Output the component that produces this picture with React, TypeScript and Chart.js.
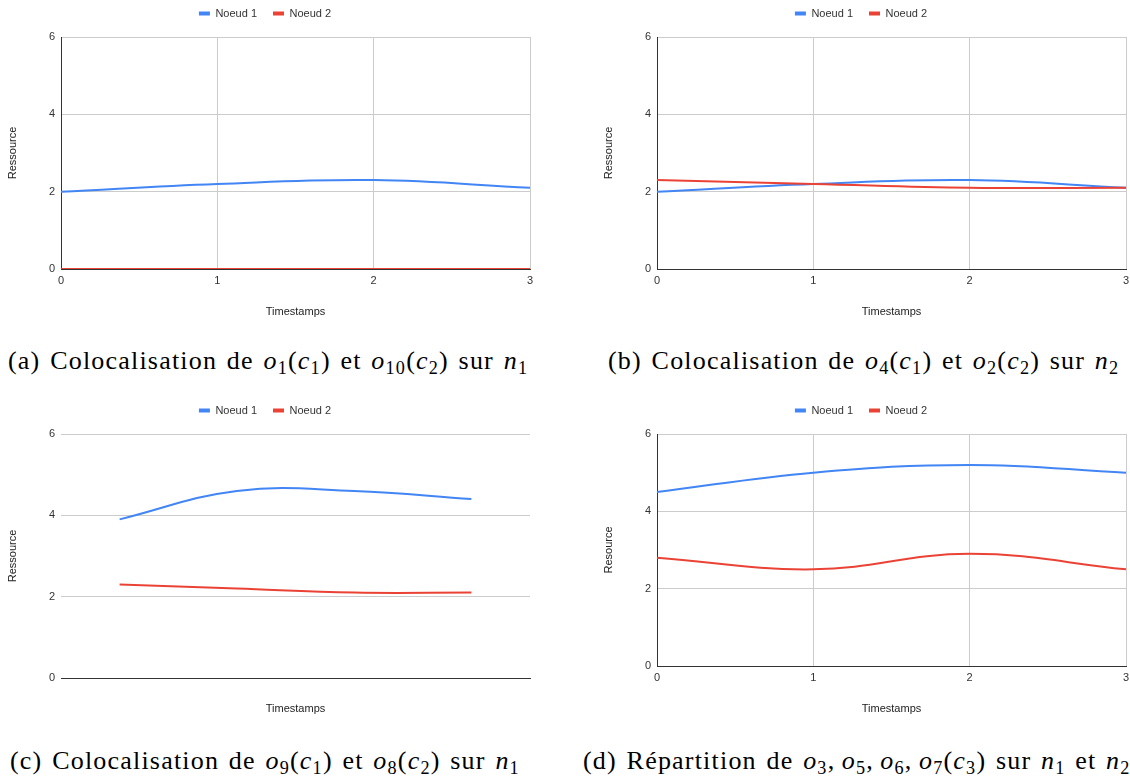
import React, { useEffect, useRef } from 'react';
import { Chart, registerables } from 'chart.js';

Chart.register(...registerables);
Chart.defaults.font.family = "'Liberation Sans', Arial, sans-serif";
Chart.defaults.font.size = 11;

// ---- data ----
const timestamps = ['0', '1', '2', '3'];
const seriesNames = ['Noeud 1', 'Noeud 2'];
const xAxisTitle = 'Timestamps';

const aNoeud1 = [2.0, 2.2, 2.3, 2.1];
const aNoeud2 = [0, 0, 0, 0];

const bNoeud1 = [2.0, 2.2, 2.3, 2.1];
const bNoeud2 = [2.3, 2.2, 2.1, 2.1];

const cNoeud1 = [3.9, 4.6, 4.6, 4.4];
const cNoeud2 = [2.3, 2.2, 2.1, 2.1];

const dNoeud1 = [4.5, 5.0, 5.2, 5.0];
const dNoeud2 = [2.8, 2.5, 2.9, 2.5];

const yMin = 0;
const yMax = 6;
const yStep = 2;

// ---- styles ----
const BLUE = '#4285F4';
const RED = '#EA4335';
const GRID = '#cccccc';
const AXIS = '#333333';
const TEXT = '#333333';
const TRANSPARENT = 'rgba(0,0,0,0)';

const legendSpacer = {
  id: 'legendSpacer',
  beforeLayout(chart: any) {
    const lg = chart.legend;
    if (lg && !lg.__spaced) {
      const orig = lg.fit;
      lg.fit = function () {
        orig.call(this);
        this.height += 8;
      };
      lg.__spaced = true;
    }
  },
};

type Spec = { n1: number[]; n2: number[]; yTitle: string; cat: boolean };

function LineChart({ spec, left, top }: { spec: Spec; left: number; top: number }) {
  const ref = useRef<HTMLCanvasElement>(null);
  useEffect(() => {
    const isCat = spec.cat;
    const chart = new Chart(ref.current as HTMLCanvasElement, {
      type: 'line',
      data: {
        labels: timestamps,
        datasets: [
          { label: seriesNames[0], data: spec.n1, borderColor: BLUE, backgroundColor: BLUE, order: 1 },
          { label: seriesNames[1], data: spec.n2, borderColor: RED, backgroundColor: RED, order: 0 },
        ],
      },
      options: {
        responsive: false,
        animation: false,
        devicePixelRatio: 1,
        layout: { padding: { top: -8, left: 0, right: 30, bottom: 9 } },
        elements: {
          line: { borderWidth: 2, tension: 0.4, fill: false },
          point: { radius: 0, hoverRadius: 0 },
        },
        plugins: {
          legend: {
            position: 'top',
            align: 'center',
            labels: {
              boxWidth: 11,
              boxHeight: 4,
              padding: 16,
              color: TEXT,
              font: { size: 11 },
              sort: (a: any, b: any) => a.datasetIndex - b.datasetIndex,
              generateLabels: (ch: any) =>
                (Chart.defaults.plugins.legend.labels as any)
                  .generateLabels(ch)
                  .map((l: any) => ({ ...l, lineWidth: 0 })),
            },
          },
          tooltip: { enabled: false },
        },
        scales: {
          x: {
            type: 'category',
            offset: isCat,
            grid: {
              display: !isCat,
              drawTicks: false,
              color: (c: any) => (c.index === 0 ? TRANSPARENT : GRID),
            },
            border: { display: true, color: AXIS, width: 1 },
            ticks: { display: !isCat, padding: 5, color: TEXT, font: { size: 11 }, maxRotation: 0, autoSkip: false },
            title: { display: true, text: xAxisTitle, color: '#222', font: { size: 11 }, padding: { top: 0, bottom: 2 } },
            afterFit: (s: any) => {
              s.height = isCat ? 40 : 52;
            },
          },
          y: {
            min: yMin,
            max: yMax,
            ticks: { stepSize: yStep, padding: 6, color: TEXT, font: { size: 11 } },
            grid: {
              drawTicks: false,
              color: (c: any) => (c.tick && c.tick.value === 0 ? TRANSPARENT : GRID),
            },
            border: { display: !isCat, color: AXIS, width: 1 },
            title: { display: true, text: spec.yTitle, color: '#222', font: { size: 11 }, padding: { top: 6, bottom: 0 } },
            afterFit: (s: any) => {
              s.width = 61;
            },
          },
        },
      } as any,
      plugins: [legendSpacer],
    });
    return () => chart.destroy();
  }, []);
  return (
    <canvas
      ref={ref}
      width={560}
      height={330}
      style={{ position: 'absolute', left, top, width: 560, height: 330 }}
    />
  );
}

const Sub = ({ v }: { v: string }) => (
  <span style={{ fontSize: '0.7em', position: 'relative', top: '0.25em', fontStyle: 'normal' }}>{v}</span>
);
const M = ({ b, s }: { b: string; s: string }) => (
  <>
    <i>{b}</i>
    <Sub v={s} />
  </>
);

function Caption({ left, top, children }: { left: number; top: number; children: React.ReactNode }) {
  return (
    <div
      style={{
        position: 'absolute',
        left,
        top,
        whiteSpace: 'nowrap',
        fontFamily: "'Liberation Serif', 'DejaVu Serif', serif",
        fontSize: 26,
        lineHeight: '30px',
        letterSpacing: '1.2px',
        wordSpacing: '2px',
        color: '#000',
      }}
    >
      {children}
    </div>
  );
}

const THIN = '\u2009';

export default function App() {
  return (
    <div
      style={{
        position: 'absolute',
        left: 0,
        top: 0,
        width: 1130,
        height: 780,
        overflow: 'hidden',
        background: '#fff',
      }}
    >
      <LineChart spec={{ n1: aNoeud1, n2: aNoeud2, yTitle: 'Ressource', cat: false }} left={0} top={0} />
      <LineChart spec={{ n1: bNoeud1, n2: bNoeud2, yTitle: 'Ressource', cat: false }} left={596} top={0} />
      <LineChart spec={{ n1: cNoeud1, n2: cNoeud2, yTitle: 'Ressource', cat: true }} left={0} top={397} />
      <LineChart spec={{ n1: dNoeud1, n2: dNoeud2, yTitle: 'Resource', cat: false }} left={596} top={397} />

      <Caption left={8} top={346}>
        (a) Colocalisation de <M b="o" s="1" />(<M b="c" s="1" />) et <M b="o" s="10" />(<M b="c" s="2" />) sur{' '}
        <M b="n" s="1" />
      </Caption>
      <Caption left={608} top={346}>
        (b) Colocalisation de <M b="o" s="4" />(<M b="c" s="1" />) et <M b="o" s="2" />(<M b="c" s="2" />) sur{' '}
        <M b="n" s="2" />
      </Caption>
      <Caption left={10} top={746}>
        (c) Colocalisation de <M b="o" s="9" />(<M b="c" s="1" />) et <M b="o" s="8" />(<M b="c" s="2" />) sur{' '}
        <M b="n" s="1" />
      </Caption>
      <Caption left={583} top={746}>
        (d) Répartition de <M b="o" s="3" />,{THIN}
        <M b="o" s="5" />,{THIN}
        <M b="o" s="6" />,{THIN}
        <M b="o" s="7" />(<M b="c" s="3" />) sur <M b="n" s="1" /> et <M b="n" s="2" />
      </Caption>
    </div>
  );
}
